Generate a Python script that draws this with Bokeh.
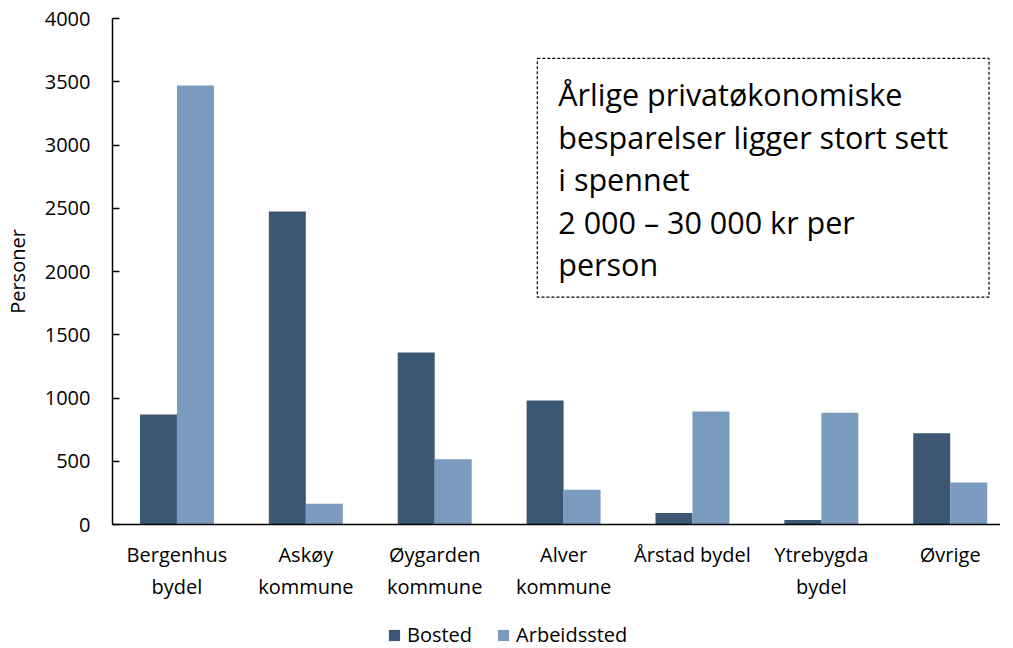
from bokeh.plotting import figure
from bokeh.layouts import column
from bokeh.models import ColumnDataSource, FixedTicker, Range1d, Legend, LegendItem, Label
from bokeh.transform import dodge
from bokeh.embed import file_html
from bokeh.resources import INLINE

categories = ["Bergenhus\nbydel", "Askøy\nkommune", "Øygarden\nkommune", "Alver\nkommune",
              "Årstad bydel", "Ytrebygda\nbydel", "Øvrige"]
bosted = [870, 2475, 1360, 980, 90, 35, 722]
arbeidssted = [3470, 165, 515, 275, 893, 883, 332]
y_ticks = [0, 500, 1000, 1500, 2000, 2500, 3000, 3500, 4000]
series_names = ["Bosted", "Arbeidssted"]
colors = ["#3B5773", "#7A9BBE"]
note = "Årlige privatøkonomiske\nbesparelser ligger stort sett\ni spennet\n2 000 – 30 000 kr per\nperson"

FONT = "Open Sans"
idx = list(range(len(categories)))
src = ColumnDataSource(dict(x=idx, bosted=bosted, arbeid=arbeidssted))

p = figure(width=1000, height=604, output_backend="svg", toolbar_location=None,
           x_range=Range1d(-0.5, 6.39), y_range=Range1d(0, 4000),
           min_border_left=111, min_border_right=0, min_border_top=18, min_border_bottom=80)
p.outline_line_color = None
p.xgrid.visible = False
p.ygrid.visible = False

bw = 0.287
r1 = p.vbar(x=dodge("x", -bw / 2, range=p.x_range), top="bosted", width=bw, source=src,
            fill_color=colors[0], line_color=None)
r2 = p.vbar(x=dodge("x", bw / 2, range=p.x_range), top="arbeid", width=bw, source=src,
            fill_color=colors[1], line_color=None)

p.xaxis.ticker = FixedTicker(ticks=idx)
p.xaxis.major_label_overrides = {i: c for i, c in enumerate(categories)}
p.xaxis.major_tick_line_color = None
p.xaxis.minor_tick_line_color = None
p.xaxis.axis_line_color = "black"
p.xaxis.axis_line_width = 1.5
p.xaxis.major_label_text_font = FONT
p.xaxis.major_label_text_font_size = "20px"
p.xaxis.major_label_text_color = "black"
p.xaxis.major_label_standoff = 10

p.yaxis.ticker = FixedTicker(ticks=y_ticks)
p.yaxis.major_tick_in = 7
p.yaxis.major_tick_out = 0
p.yaxis.major_tick_line_width = 1.5
p.yaxis.minor_tick_line_color = None
p.yaxis.axis_line_color = "black"
p.yaxis.axis_line_width = 1.5
p.yaxis.major_label_text_font = FONT
p.yaxis.major_label_text_font_size = "20px"
p.yaxis.major_label_text_color = "black"
p.yaxis.major_label_standoff = 22
p.yaxis.axis_label = "Personer"
p.yaxis.axis_label_text_font = FONT
p.yaxis.axis_label_text_font_size = "20px"
p.yaxis.axis_label_text_font_style = "normal"
p.yaxis.axis_label_text_color = "black"
p.yaxis.axis_label_standoff = 11

lab = Label(x=2.796, y=3684, text=note, text_font=FONT, text_font_size="30.5px",
            text_line_height=1.01, text_color="black", anchor="top_left",
            text_align="left", text_baseline="top",
            border_line_color="black", border_line_dash="3 2", border_line_width=1.2,
            background_fill_color="white",
            padding=dict(left=21, right=41, top=15, bottom=12))
p.add_layout(lab)

# legend strip below the chart (swatch renderers sit outside the visible range)
lf = figure(width=1000, height=44, output_backend="svg", toolbar_location=None,
            x_axis_type=None, y_axis_type=None, x_range=Range1d(0, 1), y_range=Range1d(0, 1),
            min_border_left=0, min_border_right=0, min_border_top=0, min_border_bottom=0)
lf.outline_line_color = None
lf.xgrid.visible = False
lf.ygrid.visible = False
lr1 = lf.vbar(x=[-5], top=[-5], width=0.1, fill_color=colors[0], line_color=None)
lr2 = lf.vbar(x=[-5], top=[-5], width=0.1, fill_color=colors[1], line_color=None)
legend = Legend(items=[LegendItem(label=series_names[0], renderers=[lr1]),
                       LegendItem(label=series_names[1], renderers=[lr2])],
                location=(275, 0), orientation="horizontal",
                glyph_width=14, glyph_height=14, label_standoff=6, spacing=24,
                padding=0, margin=0, border_line_color=None, background_fill_alpha=0,
                label_text_font=FONT, label_text_font_size="20px", label_text_color="black")
lf.add_layout(legend)

layout = column(p, lf, spacing=0)
open("out.html", "w").write(file_html(layout, INLINE))
